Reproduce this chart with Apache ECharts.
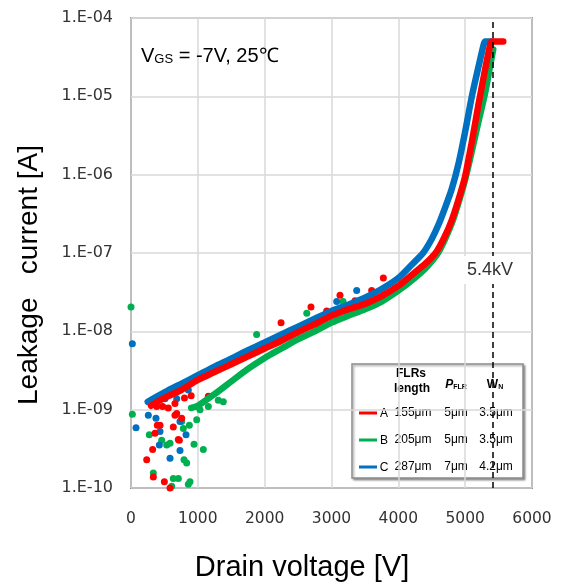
<!DOCTYPE html>
<html><head><meta charset="utf-8">
<script src="https://cdn.jsdelivr.net/npm/echarts@6/dist/echarts.min.js"></script>
<style>html,body{margin:0;padding:0;background:#fff}#c{width:562px;height:584px}</style>
</head><body><div id="c"></div>
<script>
// ---------- data ----------
const yTickLabels = ['1.E-10','1.E-09','1.E-08','1.E-07','1.E-06','1.E-05','1.E-04'];
const xTicks = [0,1000,2000,3000,4000,5000,6000];

// Series A (red) main band
const vA = [300,500,750,1000,1250,1500,1750,2000,2250,2500,2750,3000,3250,3500,3750,4000,4200,4400,4575,4700,4800,4900,5000,5100,5200,5300,5360,5400,5570];
const iA = [1.12e-9,1.41e-9,1.78e-9,2.40e-9,3.02e-9,3.80e-9,4.79e-9,6.03e-9,7.59e-9,9.77e-9,1.23e-8,1.58e-8,1.91e-8,2.24e-8,2.82e-8,3.80e-8,5.25e-8,7.24e-8,1.05e-7,1.66e-7,2.63e-7,4.79e-7,9.55e-7,2.63e-6,7.94e-6,2.24e-5,3.98e-5,5.01e-5,5.01e-5];
// Series B (green) main band
const vB = [900,1000,1250,1500,1750,2000,2250,2500,2750,3000,3250,3500,3750,4000,4200,4400,4600,4800,4900,5000,5100,5200,5300,5380,5420];
const iB = [1.05e-9,1.12e-9,1.58e-9,2.29e-9,3.31e-9,4.57e-9,6.03e-9,7.94e-9,1.00e-8,1.29e-8,1.58e-8,1.91e-8,2.40e-8,3.31e-8,4.47e-8,6.31e-8,1.02e-7,2.40e-7,4.37e-7,8.71e-7,2.00e-6,4.79e-6,1.12e-5,2.63e-5,3.98e-5];
// Series C (blue) main band
const vC = [250,500,750,1000,1250,1500,1750,2000,2250,2500,2750,3000,3250,3500,3750,4000,4200,4370,4500,4600,4700,4800,4900,5000,5100,5200,5280,5300,5410];
const iC = [1.26e-9,1.66e-9,2.14e-9,2.75e-9,3.55e-9,4.47e-9,5.75e-9,7.24e-9,9.12e-9,1.15e-8,1.45e-8,1.82e-8,2.19e-8,2.69e-8,3.47e-8,4.79e-8,7.08e-8,1.00e-7,1.51e-7,2.29e-7,3.80e-7,6.61e-7,1.38e-6,3.55e-6,1.00e-5,2.40e-5,4.68e-5,5.01e-5,5.01e-5];

// scattered (noisy) points
const vAo = [310,235,334,499,584,324,359,394,434,658,758,708,633,723,534,474,658,299,385,543,558,684,800,900,1157,2245,2693,2928,3127,3352,3601,3776];
const iAo = [1.20e-9,2.29e-10,1.38e-10,1.20e-10,1.00e-10,3.09e-10,5.01e-10,6.31e-10,6.31e-10,8.51e-10,7.76e-10,4.17e-10,6.03e-10,4.07e-10,1.62e-9,1.10e-9,1.20e-9,1.23e-9,1.10e-9,1.66e-9,1.05e-9,8.91e-10,1.41e-9,1.51e-9,1.48e-9,1.29e-8,2.04e-8,1.82e-8,2.88e-8,2.45e-8,3.31e-8,4.79e-8];
const vBo = [0,20,274,334,459,584,633,708,858,883,609,833,793,943,1082,783,873,758,983,1032,1157,1306,1381,1880,2630,3173,534];
const iBo = [2.04e-8,8.71e-10,4.79e-10,1.55e-10,4.07e-10,3.72e-10,1.32e-10,1.32e-10,1.12e-10,1.20e-10,1.05e-10,2.09e-10,2.29e-10,3.63e-10,3.09e-10,5.75e-10,6.31e-10,7.08e-10,7.41e-10,1.00e-9,1.10e-9,1.32e-9,1.26e-9,9.12e-9,1.70e-8,2.40e-8,3.55e-10];
const vCo = [20,75,334,259,374,434,424,584,609,733,823,733,858,509,684,3078,3377];
const iCo = [6.92e-9,5.89e-10,1.35e-9,8.51e-10,7.76e-10,5.25e-10,3.55e-10,2.40e-10,1.78e-9,3.02e-10,4.79e-10,7.08e-10,1.78e-9,1.38e-9,1.38e-9,2.40e-8,3.31e-8];

const breakdownV = 5410;
const legendLetters = ['A','B','C'];
const flrLengths = ['155μm','205μm','287μm'];
const pFlr = ['5μm','5μm','7μm'];
const wN = ['3.5μm','3.5μm','4.2μm'];
const colors = ['#ff0000','#00b050','#0070c0'];

// ---------- chart ----------
const zip = (v,i) => v.map((x,k)=>[x,i[k]]);
const band = (name, v, i, color, extra) => Object.assign({
  name, type:'line', data: zip(v,i), smooth:0.25, symbol:'none',
  lineStyle:{width:6.5, color, cap:'round', join:'round'}, silent:true, animation:false
}, extra||{});
const dots = (name, v, i, color) => ({
  name, type:'scatter', data: zip(v,i), symbol:'circle', symbolSize:7,
  itemStyle:{color, opacity:1}, silent:true, animation:false
});

const chart = echarts.init(document.getElementById('c'), null, {renderer:'canvas'});
const tickFont = 'DejaVu Sans';
const txtFont = "'Liberation Sans', Arial, sans-serif";
const narrow = "'Liberation Sans Narrow', 'Liberation Sans', Arial, sans-serif";

const legendEls = [
  {type:'rect', shape:{x:352,y:364,width:171,height:114},
   style:{fill:'#fff', stroke:'#8c8c8c', lineWidth:1.5, shadowBlur:2, shadowOffsetX:1.5, shadowOffsetY:1.5, shadowColor:'rgba(0,0,0,0.35)'}},
  {type:'text', style:{x:411,y:374,text:'FLRs',font:"bold 12px "+narrow,fill:'#000',align:'center',verticalAlign:'middle'}},
  {type:'text', style:{x:412,y:389,text:'length',font:"bold 12px "+narrow,fill:'#000',align:'center',verticalAlign:'middle'}},
  {type:'text', style:{x:456,y:385,text:'{p|P}{s|FLR}',align:'center',verticalAlign:'middle',
    rich:{p:{font:"italic bold 12px "+narrow,fill:'#000'}, s:{font:"bold 7px "+narrow,fill:'#000',verticalAlign:'bottom',padding:[4,0,0,0]}}}},
  {type:'text', style:{x:495,y:385,text:'{p|W}{s|N}',align:'center',verticalAlign:'middle',
    rich:{p:{font:"bold 12px "+narrow,fill:'#000'}, s:{font:"bold 7px "+narrow,fill:'#000',verticalAlign:'bottom',padding:[4,0,0,0]}}}}
];
const rowY = [413,440,467];
legendLetters.forEach((L,k)=>{
  legendEls.push({type:'rect', shape:{x:359,y:rowY[k]-1.5,width:18,height:3}, style:{fill:colors[k]}});
  legendEls.push({type:'text', style:{x:384,y:rowY[k]+1,text:L,font:"12px "+narrow,fill:'#000',align:'center',verticalAlign:'middle'}});
  legendEls.push({type:'text', style:{x:413,y:rowY[k],text:flrLengths[k],font:"12px "+narrow,fill:'#000',align:'center',verticalAlign:'middle'}});
  legendEls.push({type:'text', style:{x:456,y:rowY[k],text:pFlr[k],font:"12px "+narrow,fill:'#000',align:'center',verticalAlign:'middle'}});
  legendEls.push({type:'text', style:{x:496,y:rowY[k],text:wN[k],font:"12px "+narrow,fill:'#000',align:'center',verticalAlign:'middle'}});
});

chart.setOption({
  animation:false,
  backgroundColor:'#fff',
  grid:{left:131, right:30, top:18, bottom:96, show:true, borderColor:'#404040', borderWidth:1.5, containLabel:false},
  xAxis:{type:'value', min:0, max:6000, interval:1000,
    axisLine:{show:false}, axisTick:{show:false},
    splitLine:{show:true, lineStyle:{color:'#d9d9d9', width:1.5}},
    axisLabel:{fontFamily:tickFont, fontSize:15.5, color:'#333', margin:23,
      formatter:(v)=>{const k=xTicks.indexOf(v); return k>=0 ? String(xTicks[k]) : '';}}},
  yAxis:{type:'log', logBase:10, min:1e-10, max:1e-4, interval:1,
    axisLine:{show:false}, axisTick:{show:false},
    splitLine:{show:true, lineStyle:{color:'#d9d9d9', width:1.5}},
    axisLabel:{fontFamily:tickFont, fontSize:16, color:'#333', margin:18,
      formatter:(v)=>{const e=Math.round(Math.log10(v)); return yTickLabels[e+10]||'';}}},
  series:[
    band('B', vB, iB, colors[1]),
    dots('B', vBo, iBo, colors[1]),
    band('C', vC, iC, colors[2]),
    dots('C', vCo, iCo, colors[2]),
    dots('A', vAo, iAo, colors[0]),
    band('A', vA, iA, colors[0], {markLine:{silent:true, symbol:['none','none'], animation:false,
      label:{show:false}, lineStyle:{type:[6,4], color:'#000', width:1.5},
      data:[{xAxis:breakdownV}]}})
  ],
  graphic:{elements:[
    {type:'text', z:100, style:{x:141,y:56,text:'{v|V}{s|GS}{v| = -7V, 25℃}',verticalAlign:'middle',
      rich:{v:{font:"20px "+txtFont,fill:'#000'}, s:{font:"13px "+txtFont,fill:'#000',verticalAlign:'bottom',padding:[6,0,0,0]}}}},
    {type:'text', z:100, style:{x:490,y:270,text:'5.4kV',font:"18px "+txtFont,fill:'#333',align:'center',verticalAlign:'middle',
      backgroundColor:'#fff',padding:[5,5]}},
    {type:'text', z:100, style:{x:302,y:568,text:'Drain voltage [V]',font:"29px "+txtFont,fill:'#000',align:'center',verticalAlign:'middle'}},
    {type:'text', z:100, x:29, y:275, rotation:Math.PI/2, style:{x:0,y:0,text:'Leakage   current [A]',font:"28px "+txtFont,fill:'#000',align:'center',verticalAlign:'middle'}},
    {type:'group', z:100, children:legendEls}
  ]}
});
</script></body></html>
